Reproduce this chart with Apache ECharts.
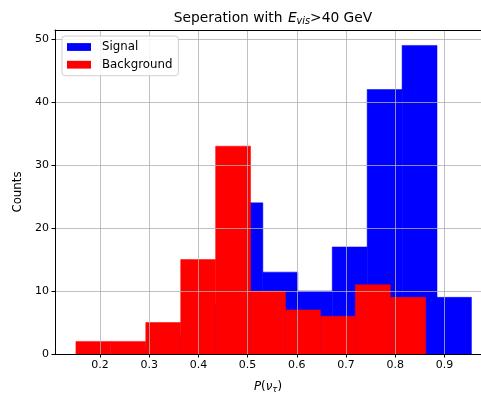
<!DOCTYPE html>
<html>
<head>
<meta charset="utf-8">
<script src="https://cdn.jsdelivr.net/npm/echarts@6/dist/echarts.min.js"></script>
<style>html,body{margin:0;padding:0;background:#fff}#c{width:481px;height:393px}</style>
</head>
<body>
<div id="c"></div>
<script>
// Histogram bin edges and counts
var signalEdges = [0.248, 0.319, 0.390, 0.460, 0.531, 0.602, 0.672, 0.743, 0.814, 0.885, 0.955];
var signalCounts = [1, 3, 8, 24, 13, 10, 17, 42, 49, 9];
var backgroundEdges = [0.151, 0.222, 0.293, 0.364, 0.435, 0.506, 0.577, 0.648, 0.719, 0.790, 0.862];
var backgroundCounts = [2, 2, 5, 15, 33, 10, 7, 6, 11, 9];
var xTicks = [0.2, 0.3, 0.4, 0.5, 0.6, 0.7, 0.8, 0.9];
var yTicks = [0, 10, 20, 30, 40, 50];

function toBins(edges, counts) {
  var out = [];
  for (var i = 0; i < counts.length; i++) out.push([edges[i], edges[i + 1], counts[i]]);
  return out;
}
function makeRender(color) {
  return function (params, api) {
    var p0 = api.coord([api.value(0), api.value(2)]);
    var p1 = api.coord([api.value(1), 0]);
    return {
      type: 'rect',
      shape: { x: p0[0], y: p0[1], width: p1[0] - p0[0], height: p1[1] - p0[1] },
      style: { fill: color, stroke: color, lineWidth: 0.5 }
    };
  };
}
var FONT = 'DejaVu Sans';
var chart = echarts.init(document.getElementById('c'), null, { renderer: 'canvas' });
chart.setOption({
  animation: false,
  textStyle: { fontFamily: FONT, color: '#000' },
  grid: { left: 55, top: 30, bottom: 39, right: 0, outerBoundsMode: 'none', containLabel: false },
  graphic: [{
    type: 'text', x: 273, y: 18, z: 10,
    style: {
      text: 'Seperation with {it|E}{sub|vis}>40 GeV',
      font: '13.8px "DejaVu Sans"', fill: '#000', align: 'center', verticalAlign: 'middle',
      textAlign: 'center', textVerticalAlign: 'middle',
      rich: {
        it: { fontStyle: 'italic', fontSize: 13.8, fontFamily: FONT, padding: [0, 0, 0, 1] },
        sub: { fontStyle: 'italic', fontSize: 9.7, fontFamily: FONT, verticalAlign: 'bottom', padding: [7, 0, 0, 0] }
      }
    }
  }],
  legend: {
    orient: 'vertical', left: 62, top: 36, z: 10,
    padding: [4, 6, 4, 5], itemGap: 3.7,
    itemWidth: 24, itemHeight: 7.8,
    backgroundColor: 'rgba(255,255,255,0.85)', borderColor: '#d0d0d0', borderWidth: 1, borderRadius: 3,
    textStyle: { fontFamily: FONT, fontSize: 11.8, lineHeight: 14, color: '#000', padding: [0, 0, 0, 6] },
    data: [{ name: 'Signal', icon: 'rect' }, { name: 'Background', icon: 'rect' }]
  },
  xAxis: [{
    type: 'value', min: 0.1085, max: 0.9744, z: 3,
    name: '{it|P}({it|ν}{sub|τ})', nameLocation: 'middle', nameGap: 25,
    nameTextStyle: {
      fontFamily: FONT, fontSize: 11.8, color: '#000',
      rich: {
        it: { fontStyle: 'italic', fontSize: 11.8, fontFamily: FONT },
        sub: { fontStyle: 'italic', fontSize: 8.5, fontFamily: FONT, verticalAlign: 'bottom', padding: [6, 0, 0, 0] }
      }
    },
    axisLine: { lineStyle: { color: '#000', width: 1 } },
    axisTick: { show: true, length: 3.5, lineStyle: { color: '#000' }, customValues: xTicks },
    axisLabel: { fontFamily: FONT, fontSize: 11, color: '#000', margin: 6, customValues: xTicks,
      formatter: function (v) { return v.toFixed(1); } },
    splitLine: { show: true, lineStyle: { color: '#b0b0b0', width: 0.8 } }
  }, {
    type: 'value', position: 'top', min: 0.1085, max: 0.9744, z: 3,
    axisLine: { show: true, onZero: false, lineStyle: { color: '#000', width: 1 } },
    axisTick: { show: false }, axisLabel: { show: false }, splitLine: { show: false }
  }],
  yAxis: {
    type: 'value', min: 0, max: 51.45, z: 3,
    name: 'Counts', nameLocation: 'middle', nameGap: 27, nameRotate: 90,
    nameTextStyle: { fontFamily: FONT, fontSize: 11.8, color: '#000' },
    axisLine: { show: true, lineStyle: { color: '#000', width: 1 } },
    axisTick: { show: true, length: 3.5, lineStyle: { color: '#000' }, customValues: yTicks },
    axisLabel: { fontFamily: FONT, fontSize: 11, color: '#000', margin: 6, customValues: yTicks },
    splitLine: { show: true, lineStyle: { color: '#b0b0b0', width: 0.8 } }
  },
  series: [
    { name: 'Signal', type: 'custom', itemStyle: { color: '#0000ff' }, z: 2,
      renderItem: makeRender('#0000ff'), encode: { x: [0, 1], y: 2 }, data: toBins(signalEdges, signalCounts) },
    { name: 'Background', type: 'custom', itemStyle: { color: '#ff0000' }, z: 2.5,
      renderItem: makeRender('#ff0000'), encode: { x: [0, 1], y: 2 }, data: toBins(backgroundEdges, backgroundCounts) }
  ]
});
</script>
</body>
</html>
